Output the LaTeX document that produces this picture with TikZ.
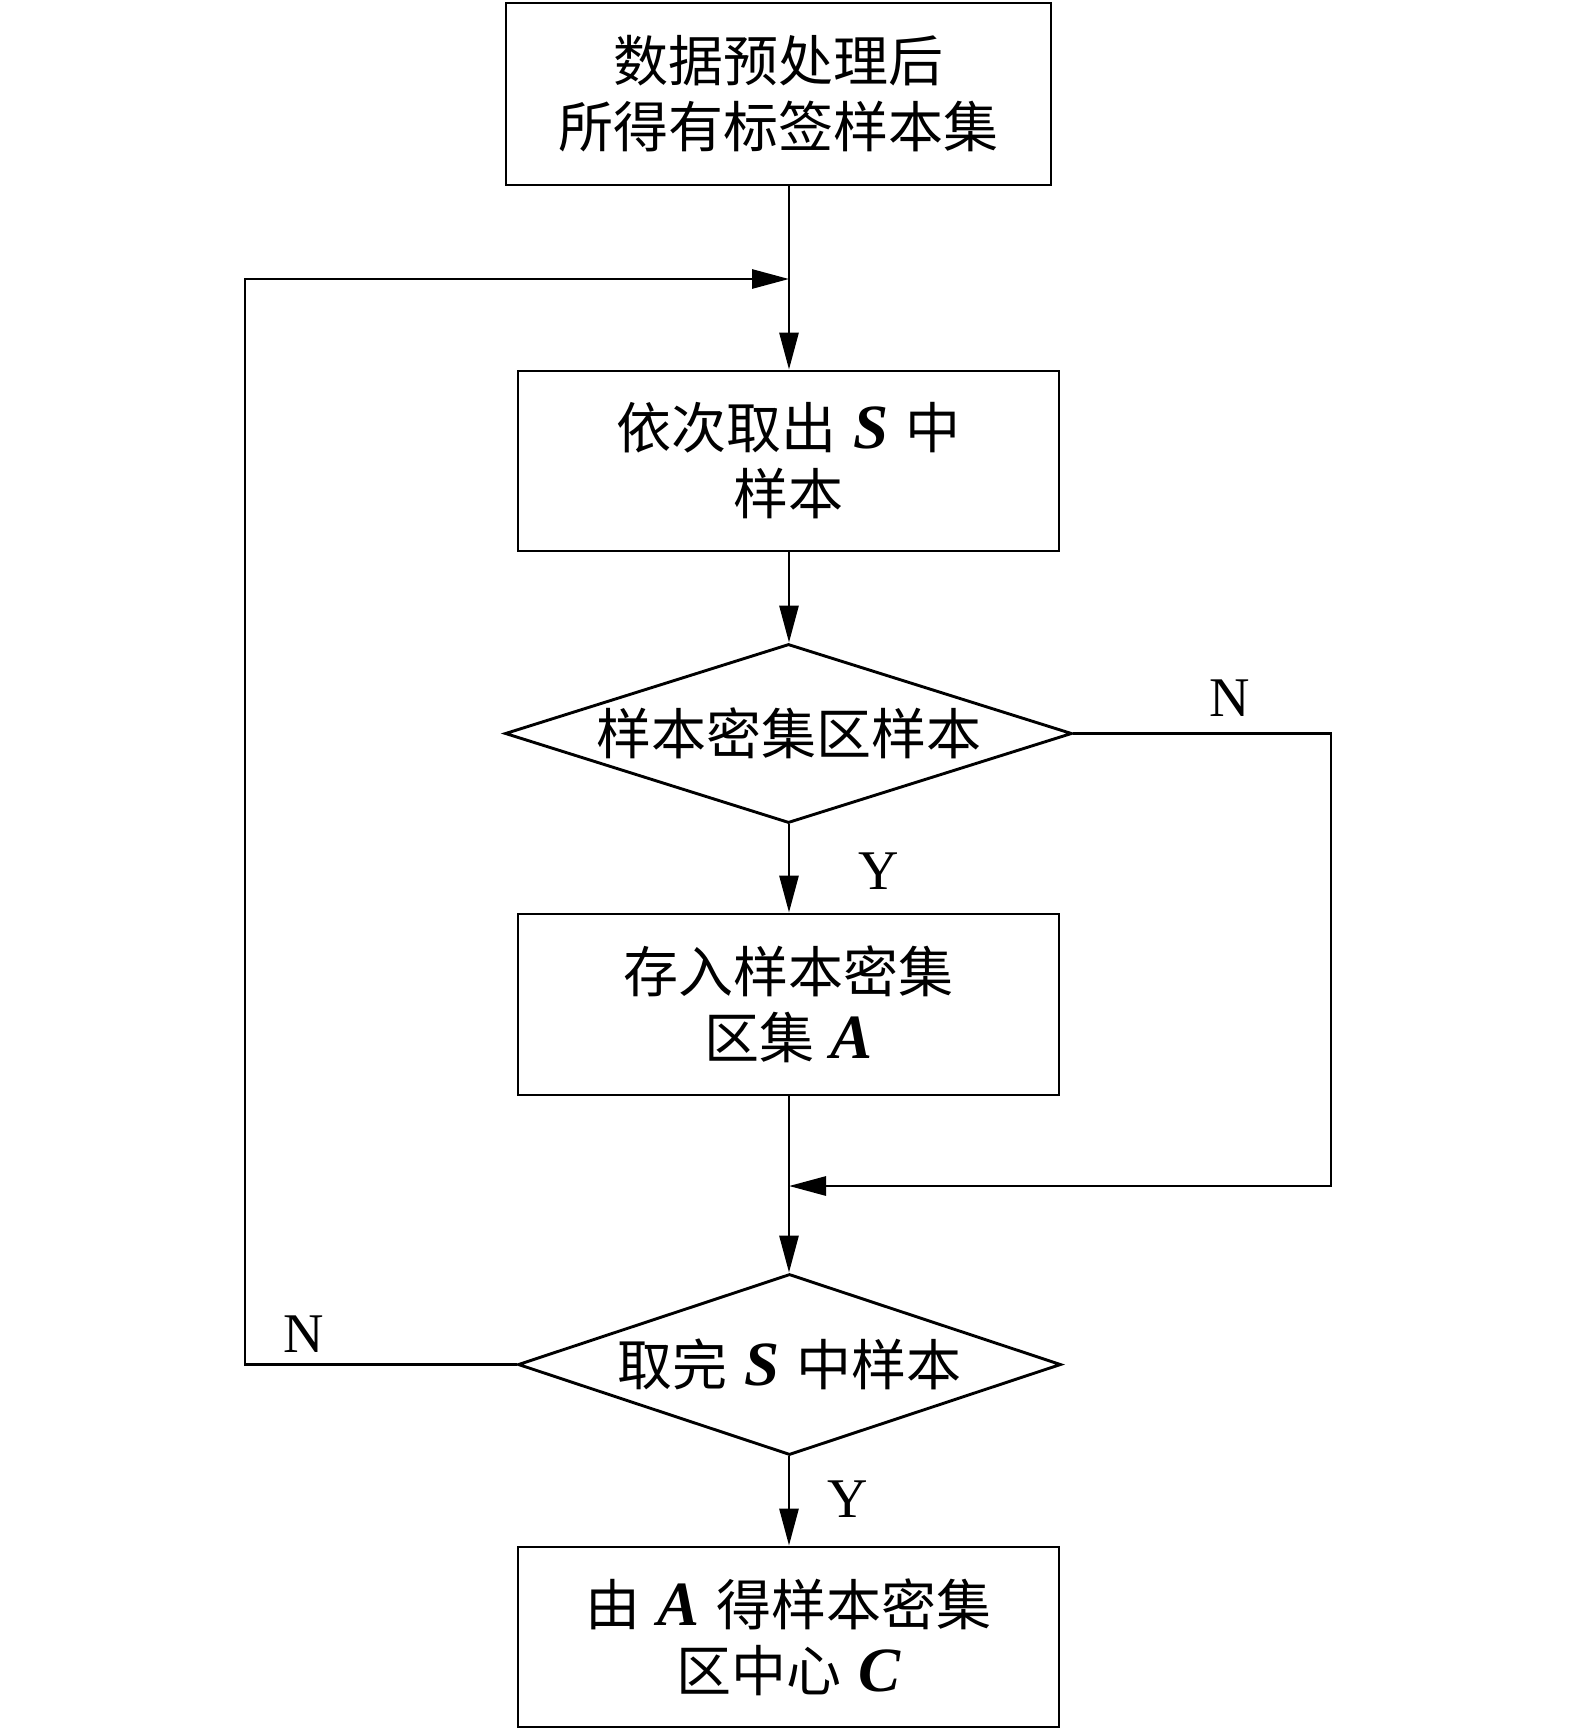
\documentclass[tikz,border=0pt]{standalone}
\usepackage{fontspec}
\setmainfont{Noto Sans CJK SC}
\newfontfamily\latf{Liberation Serif}
\usetikzlibrary{arrows.meta,shapes.geometric}
\newcommand\vb[1]{\hspace{0.3em}{\latf\bfseries\itshape\fontsize{63}{66}\selectfont #1}\hspace{0.3em}}
\begin{document}
\begin{tikzpicture}[x=1pt,y=-1pt,
  line width=2.9pt,
  every node/.style={font=\fontsize{55}{66}\selectfont},
  procbox/.style={draw,rectangle,minimum width=541pt,minimum height=180pt,inner sep=0pt,align=center},
  decide/.style={draw,diamond,aspect=3.17,inner sep=0pt,align=center},
  yn/.style={font=\fontsize{56}{60}\selectfont\latf},
  arr/.style={-{Triangle[length=37pt,width=19pt]}}
]
\useasboundingbox (0,0) rectangle (1575,1730);
\node[procbox,minimum width=545pt,minimum height=182pt] (b1) at (778.5,94) {数据预处理后\\所得有标签样本集};
\node[procbox] (b2) at (788.5,461) {依次取出\vb{S}中\\样本};
\node[decide,minimum width=567pt,minimum height=179pt] (d1) at (788.5,733.5) {样本密集区样本};
\node[procbox,minimum height=181pt] (b3) at (788.5,1004.5) {存入样本密集\\区集\vb{A}};
\node[decide,minimum width=543pt,minimum height=181pt] (d2) at (789.5,1364.5) {取完\vb{S}中样本};
\node[procbox,minimum height=180pt] (b4) at (788.5,1637) {由\vb{A}得样本密集\\区中心\vb{C}};

\coordinate (j1) at (789,279);
\coordinate (j2) at (789,1186);
\coordinate (lc) at (245,1364.5);
\coordinate (lt) at (245,279);
\coordinate (rc) at (1331,733.5);
\coordinate (rb) at (1331,1186);

\draw (b1.south -| j1) -- (j1);
\draw[arr] (j1) -- (b2.north -| j1);
\draw[arr] (b2.south -| j1) -- (d1.north -| j1);
\draw[arr] (d1.south -| j1) -- (b3.north -| j1);
\draw (b3.south -| j2) -- (j2);
\draw[arr] (j2) -- (d2.north -| j2);
\draw[arr] (d2.south -| j2) -- (b4.north -| j2);
\draw[arr] (d1.east) -- (rc) -- (rb) -- (j2);
\draw[arr] (d2.west) -- (lc) -- (lt) -- (j1);

\node[yn] (n1) at (1230,698) {N};
\node[yn] (y1) at (879,871) {Y};
\node[yn] (n2) at (304,1334) {N};
\node[yn] (y2) at (848,1499) {Y};
\end{tikzpicture}
\end{document}
